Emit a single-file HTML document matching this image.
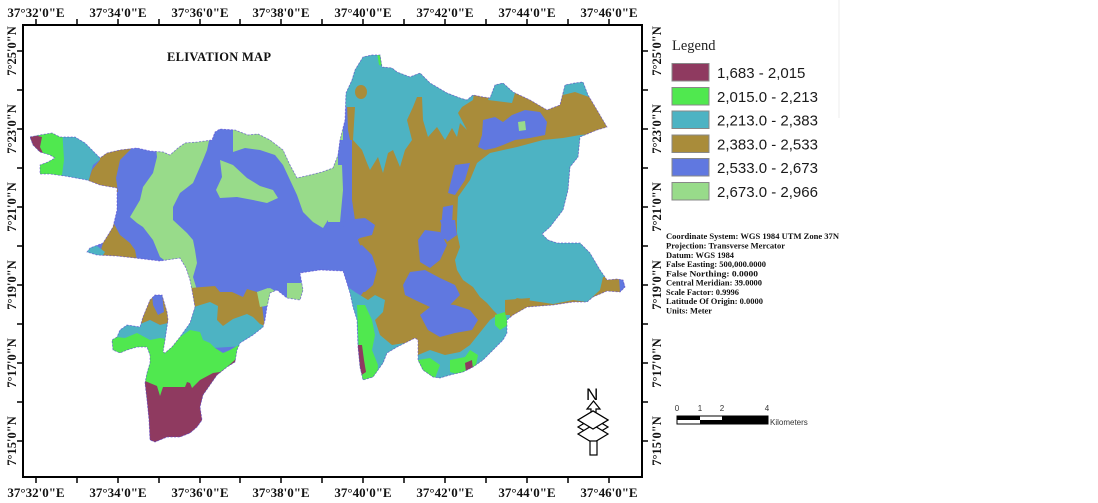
<!DOCTYPE html>
<html><head><meta charset="utf-8"><style>
html,body{margin:0;padding:0;background:#fff;}
svg{display:block;}
.ax{font-family:"Liberation Serif",serif;font-weight:bold;font-size:13px;fill:#111;}
.axs{font-family:"Liberation Serif",serif;font-weight:bold;font-size:12.5px;fill:#111;}
.lg{font-family:"Liberation Sans",sans-serif;font-size:15px;fill:#1a1a1a;}
.cs{font-family:"Liberation Serif",serif;font-weight:bold;font-size:8.6px;fill:#111;}
.sb{font-family:"Liberation Sans",sans-serif;font-size:8px;fill:#333;}
</style></head><body>
<svg width="1098" height="503" viewBox="0 0 1098 503" xmlns="http://www.w3.org/2000/svg">
<rect width="1098" height="503" fill="#fff"/>
<defs>
<clipPath id="c"><polygon id="outl" points="30,137 40,135 52,133 60,137 75,137 85,143 92,150 100,158 107,153 120,150 137,148 150,151 163,152 170,155 178,148 185,143 198,142 212,140 215,132 220,129 235,130 248,135 258,134 270,140 283,150 290,165 297,178 310,175 322,172 333,168 338,155 340,140 345,120 346,93 352,80 355,70 363,57 372,55 380,55 382,67 392,68 397,72 410,77 420,73 430,83 447,93 460,98 467,100 473,95 483,97 490,98 495,85 503,83 513,92 530,100 547,110 560,105 565,85 575,83 583,82 588,95 597,110 607,127 597,130 580,137 578,157 570,167 568,190 563,210 550,227 542,234 548,240 557,243 580,243 590,253 600,270 607,280 617,279 623,280 625,287 620,292 607,291 593,297 587,302 573,302 553,305 527,307 513,315 507,320 507,333 503,340 493,350 483,360 473,367 463,372 450,375 440,378 433,377 423,370 418,360 418,340 415,338 407,342 397,347 387,353 383,363 373,377 363,380 360,367 358,347 357,320 353,307 350,293 346,280 343,271 320,270 300,273 303,290 300,300 287,298 277,290 270,293 267,307 265,320 263,327 253,335 240,343 237,350 235,362 227,367 217,375 210,385 203,395 200,407 202,420 197,427 190,433 180,437 167,437 155,442 150,440 149,420 147,400 145,383 147,373 150,363 150,355 147,347 137,347 127,350 120,353 113,350 112,340 117,337 120,330 127,325 140,327 143,317 150,300 155,295 162,295 167,312 168,320 165,340 163,352 165,353 172,347 180,337 190,323 195,307 192,290 190,280 186,268 180,258 160,261 135,258 117,256 97,255 87,252 90,248 103,243 113,227 117,210 117,188 100,185 87,180 65,176 50,174 40,174 40,165 48,162 55,158 50,155 40,152 33,145"/></clipPath>
</defs>

<!-- base -->
<use href="#outl" fill="#6078e0"/>
<g clip-path="url(#c)">
<!-- east olive -->
<polygon fill="#a98c3a" points="345,50 625,50 625,300 500,320 490,385 365,385 358,300 366,288 366,260 358,240 352,200 352,150 348,130"/>
<!-- cyan NW -->
<polygon fill="#4db3c3" points="340,50 480,50 473,100 462,107 458,113 467,130 460,123 457,137 452,128 445,140 437,127 428,137 423,120 422,97 417,97 413,107 407,120 412,140 405,150 400,167 393,150 388,153 383,173 378,157 370,170 367,163 362,150 353,140 355,107 340,107"/>
<ellipse cx="361" cy="92" rx="6" ry="7" fill="#a98c3a"/>
<polygon fill="#50e84f" points="377,52 383,52 383,66 379,65"/>
<polygon fill="#4db3c3" points="488,100 495,83 505,82 515,93 512,103"/>
<polygon fill="#4db3c3" points="563,95 565,80 586,78 589,97 575,92"/>
<!-- blue NE patch -->
<polygon fill="#6078e0" points="483,120 495,117 503,122 512,115 525,110 540,112 547,122 545,135 530,138 515,140 503,145 495,148 485,150 478,147 482,135"/>
<polygon fill="#98db8a" points="518,122 525,121 526,130 519,131"/>
<!-- cyan big east -->
<polygon fill="#4db3c3" points="477,163 490,153 517,147 543,140 563,138 580,135 640,130 640,272 603,277 600,290 587,302 573,300 553,304 527,300 517,298 510,303 507,310 500,317 493,310 487,303 480,297 473,287 463,280 457,270 455,260 460,247 457,233 457,220 458,197 470,180"/>
<polygon fill="#a98c3a" points="505,300 530,298 528,308 515,315 505,315"/>
<polygon fill="#6078e0" points="619,278 630,278 630,292 620,292"/>
<!-- blue patches in olive -->
<polygon fill="#6078e0" points="403,285 410,272 425,270 440,278 455,285 460,295 450,305 430,307 415,300 405,295"/>
<polygon fill="#6078e0" points="420,315 435,303 455,305 470,310 478,320 472,330 455,333 440,337 428,330"/>
<polygon fill="#6078e0" points="418,240 425,230 440,232 447,245 440,260 430,268 420,262"/>
<polygon fill="#6078e0" points="440,220 455,220 457,235 447,242"/>
<polygon fill="#6078e0" points="455,165 470,163 465,180 455,195 448,193"/>
<polygon fill="#6078e0" points="443,207 453,205 452,225 448,240 440,238"/>
<polygon fill="#6078e0" points="345,220 365,218 375,225 372,235 360,238 350,245 345,245"/>
<polygon fill="#6078e0" points="345,250 362,245 372,255 377,270 373,285 365,292 345,292"/>
<!-- cyan SW of east part -->
<polygon fill="#4db3c3" points="345,285 355,292 368,300 375,295 385,300 383,312 375,320 380,335 392,345 405,343 415,345 418,360 365,385 345,385"/>
<polygon fill="#50e84f" points="357,305 365,305 372,320 375,335 372,350 378,365 377,378 360,380"/>
<polygon fill="#8f3a60" points="356,345 362,345 364,360 366,372 360,376 356,376"/>
<!-- bottom band -->
<polygon fill="#4db3c3" points="418,355 430,350 445,355 460,352 470,345 478,335 490,320 497,315 510,315 510,385 418,385"/>
<polygon fill="#50e84f" points="418,360 430,358 440,365 435,378 420,378"/>
<polygon fill="#50e84f" points="450,360 465,357 470,350 478,355 475,370 460,375 450,372"/>
<polygon fill="#8f3a60" points="465,363 472,360 473,370 466,372"/>
<polygon fill="#50e84f" points="495,315 505,312 508,325 500,330 495,325"/>

<!-- left lobe west -->
<polygon fill="#50e84f" points="25,128 63,128 66,150 64,180 25,180"/>
<polygon fill="#8f3a60" points="25,133 42,137 40,147 43,153 30,155"/>
<polygon fill="#4db3c3" points="62,128 102,138 102,158 93,165 90,175 87,190 60,190 64,160"/>
<polygon fill="#a98c3a" points="100,148 135,145 120,160 116,178 118,192 85,192 92,170 100,160"/>
<polygon fill="#a98c3a" points="113,222 120,235 130,243 135,250 137,260 98,260 103,243 110,232"/>
<polygon fill="#4db3c3" points="83,244 97,246 105,252 100,260 83,260"/>
<!-- light green band -->
<polygon fill="#98db8a" points="155,138 210,136 207,150 203,160 193,183 180,193 173,207 173,220 187,233 193,240 195,250 197,263 193,277 197,290 185,290 183,273 177,263 167,262 160,257 153,240 143,227 137,223 130,217 140,200 143,187 153,173 157,157"/>
<!-- light green NE of left lobe -->
<polygon fill="#98db8a" points="233,120 343,120 343,205 333,212 323,228 313,222 303,212 297,195 290,180 283,165 275,155 260,150 245,148 233,152"/>
<polygon fill="#6078e0" points="338,140 352,140 352,205 342,230 338,225"/>
<polygon fill="#98db8a" points="220,160 233,165 247,178 260,186 273,190 278,198 267,203 253,200 237,197 220,198 216,190 222,177"/>
<polygon fill="#98db8a" points="287,283 303,283 303,300 287,300"/>
<polygon fill="#98db8a" points="257,292 270,288 277,292 270,305 260,307"/>
<polygon fill="#98db8a" points="328,165 342,165 343,190 340,222 328,222"/>
<!-- south lobe -->
<polygon fill="#a98c3a" points="185,292 190,288 215,286 220,292 232,292 243,297 247,289 257,292 262,305 265,330 190,330"/>
<polygon fill="#98db8a" points="257,292 268,288 275,292 270,305 260,307"/>
<polygon fill="#4db3c3" points="180,312 197,306 210,302 218,306 217,320 223,326 233,319 247,314 253,317 260,324 270,328 260,345 180,350"/>
<polygon fill="#50e84f" points="140,355 155,350 167,350 180,337 190,330 200,332 203,340 210,343 215,348 223,353 230,350 237,346 250,340 250,400 140,400"/>
<polygon fill="#8f3a60" points="140,382 145,381 157,386 160,396 163,387 185,387 187,382 190,383 192,388 200,380 213,373 220,372 227,367 237,358 245,360 245,450 140,450"/>
<!-- peninsula -->
<polygon fill="#a98c3a" points="138,286 172,286 172,322 160,325 150,320 138,325"/>
<polygon fill="#6078e0" points="152,293 162,293 164,312 158,315 153,305"/>
<polygon fill="#4db3c3" points="108,318 138,325 150,320 160,325 172,322 172,342 160,340 150,342 137,335 125,340 108,340"/>
<polygon fill="#50e84f" points="108,336 125,338 137,333 150,340 160,338 172,340 172,360 108,360"/>
</g>
<use href="#outl" fill="none" stroke="#5a3fd0" stroke-width="0.9" stroke-opacity="0.6" stroke-dasharray="2 1.5"/>

<!-- frame -->
<rect x="23" y="25" width="619" height="452" fill="none" stroke="#000" stroke-width="2"/>
<g stroke="#000" stroke-width="1.5">
<line x1="36" y1="19" x2="36" y2="25"/><line x1="77" y1="19" x2="77" y2="25"/><line x1="118" y1="19" x2="118" y2="25"/><line x1="159" y1="19" x2="159" y2="25"/><line x1="200" y1="19" x2="200" y2="25"/><line x1="240" y1="19" x2="240" y2="25"/><line x1="281" y1="19" x2="281" y2="25"/><line x1="322" y1="19" x2="322" y2="25"/><line x1="363" y1="19" x2="363" y2="25"/><line x1="404" y1="19" x2="404" y2="25"/><line x1="445" y1="19" x2="445" y2="25"/><line x1="486" y1="19" x2="486" y2="25"/><line x1="527" y1="19" x2="527" y2="25"/><line x1="568" y1="19" x2="568" y2="25"/><line x1="609" y1="19" x2="609" y2="25"/>
<line x1="36" y1="477" x2="36" y2="483"/><line x1="77" y1="477" x2="77" y2="483"/><line x1="118" y1="477" x2="118" y2="483"/><line x1="159" y1="477" x2="159" y2="483"/><line x1="200" y1="477" x2="200" y2="483"/><line x1="240" y1="477" x2="240" y2="483"/><line x1="281" y1="477" x2="281" y2="483"/><line x1="322" y1="477" x2="322" y2="483"/><line x1="363" y1="477" x2="363" y2="483"/><line x1="404" y1="477" x2="404" y2="483"/><line x1="445" y1="477" x2="445" y2="483"/><line x1="486" y1="477" x2="486" y2="483"/><line x1="527" y1="477" x2="527" y2="483"/><line x1="568" y1="477" x2="568" y2="483"/><line x1="609" y1="477" x2="609" y2="483"/>
<line x1="17" y1="51" x2="23" y2="51"/><line x1="17" y1="90" x2="23" y2="90"/><line x1="17" y1="129" x2="23" y2="129"/><line x1="17" y1="168" x2="23" y2="168"/><line x1="17" y1="207" x2="23" y2="207"/><line x1="17" y1="246" x2="23" y2="246"/><line x1="17" y1="285" x2="23" y2="285"/><line x1="17" y1="324" x2="23" y2="324"/><line x1="17" y1="363" x2="23" y2="363"/><line x1="17" y1="402" x2="23" y2="402"/><line x1="17" y1="441" x2="23" y2="441"/>
<line x1="642" y1="51" x2="648" y2="51"/><line x1="642" y1="90" x2="648" y2="90"/><line x1="642" y1="129" x2="648" y2="129"/><line x1="642" y1="168" x2="648" y2="168"/><line x1="642" y1="207" x2="648" y2="207"/><line x1="642" y1="246" x2="648" y2="246"/><line x1="642" y1="285" x2="648" y2="285"/><line x1="642" y1="324" x2="648" y2="324"/><line x1="642" y1="363" x2="648" y2="363"/><line x1="642" y1="402" x2="648" y2="402"/><line x1="642" y1="441" x2="648" y2="441"/>
</g>
<g class="ax" text-anchor="middle">
<text x="36" y="17">37°32'0"E</text><text x="118" y="17">37°34'0"E</text><text x="200" y="17">37°36'0"E</text><text x="281" y="17">37°38'0"E</text><text x="363" y="17">37°40'0"E</text><text x="445" y="17">37°42'0"E</text><text x="527" y="17">37°44'0"E</text><text x="609" y="17">37°46'0"E</text>
<text x="36" y="497">37°32'0"E</text><text x="118" y="497">37°34'0"E</text><text x="200" y="497">37°36'0"E</text><text x="281" y="497">37°38'0"E</text><text x="363" y="497">37°40'0"E</text><text x="445" y="497">37°42'0"E</text><text x="527" y="497">37°44'0"E</text><text x="609" y="497">37°46'0"E</text>
</g>
<g class="axs" text-anchor="middle">
<text transform="translate(16,51) rotate(-90)">7°25'0"N</text><text transform="translate(16,129) rotate(-90)">7°23'0"N</text><text transform="translate(16,207) rotate(-90)">7°21'0"N</text><text transform="translate(16,285) rotate(-90)">7°19'0"N</text><text transform="translate(16,363) rotate(-90)">7°17'0"N</text><text transform="translate(16,441) rotate(-90)">7°15'0"N</text>
<text transform="translate(661,51) rotate(-90)">7°25'0"N</text><text transform="translate(661,129) rotate(-90)">7°23'0"N</text><text transform="translate(661,207) rotate(-90)">7°21'0"N</text><text transform="translate(661,285) rotate(-90)">7°19'0"N</text><text transform="translate(661,363) rotate(-90)">7°17'0"N</text><text transform="translate(661,441) rotate(-90)">7°15'0"N</text>
</g>
<text x="167" y="61" font-family="Liberation Serif, serif" font-weight="bold" font-size="12.5" fill="#111" textLength="104">ELIVATION MAP</text>

<!-- north arrow -->
<text x="586" y="400" font-family="Liberation Sans, sans-serif" font-size="17" fill="#000">N</text>
<polygon points="593.5,401 587,409 591,409 591,415 596,415 596,409 600,409" fill="#fff" stroke="#000" stroke-width="1.2"/>
<g fill="#fff" stroke="#000" stroke-width="1.2">
<polygon points="578,420 593,411 608,420 593,429"/>
<polygon points="578,427 593,418 608,427 593,436"/>
<polygon points="578,434 593,425 608,434 593,443"/>
<rect x="590" y="441" width="7" height="14"/>
</g>
<polygon points="578,420 593,411 608,420 593,429" fill="#fff" stroke="#000" stroke-width="1.2"/>

<!-- legend -->
<line x1="839" y1="0" x2="839" y2="118" stroke="#ececec" stroke-width="1"/>
<text x="672" y="50" font-family="Liberation Serif, serif" font-size="14.5" fill="#222">Legend</text>
<g stroke="#888" stroke-width="1">
<rect x="672" y="63.5" width="37" height="17.5" fill="#8f3a60"/>
<rect x="672" y="87.5" width="37" height="17.5" fill="#50e84f"/>
<rect x="672" y="111" width="37" height="17.5" fill="#4db3c3"/>
<rect x="672" y="135" width="37" height="17.5" fill="#a98c3a"/>
<rect x="672" y="158.5" width="37" height="17.5" fill="#6078e0"/>
<rect x="672" y="182.5" width="37" height="17.5" fill="#98db8a"/>
</g>
<g class="lg">
<text x="717" y="78">1,683 - 2,015</text>
<text x="717" y="102">2,015.0 - 2,213</text>
<text x="717" y="125.5">2,213.0 - 2,383</text>
<text x="717" y="149.5">2,383.0 - 2,533</text>
<text x="717" y="173">2,533.0 - 2,673</text>
<text x="717" y="197">2,673.0 - 2,966</text>
</g>
<g class="cs">
<text x="666" y="239" textLength="173" lengthAdjust="spacingAndGlyphs">Coordinate System: WGS 1984 UTM Zone 37N</text>
<text x="666" y="248.5" textLength="119" lengthAdjust="spacingAndGlyphs">Projection: Transverse Mercator</text>
<text x="666" y="258" textLength="68" lengthAdjust="spacingAndGlyphs">Datum: WGS 1984</text>
<text x="666" y="267" textLength="100" lengthAdjust="spacingAndGlyphs">False Easting: 500,000.0000</text>
<text x="666" y="276.5" textLength="92" lengthAdjust="spacingAndGlyphs">False Northing: 0.0000</text>
<text x="666" y="285.5" textLength="96" lengthAdjust="spacingAndGlyphs">Central Meridian: 39.0000</text>
<text x="666" y="295" textLength="73" lengthAdjust="spacingAndGlyphs">Scale Factor: 0.9996</text>
<text x="666" y="304" textLength="97" lengthAdjust="spacingAndGlyphs">Latitude Of Origin: 0.0000</text>
<text x="666" y="313.5" textLength="46" lengthAdjust="spacingAndGlyphs">Units: Meter</text>
</g>

<!-- scale bar -->
<g class="sb" text-anchor="middle">
<text x="677" y="411">0</text><text x="700" y="411">1</text><text x="722" y="411">2</text><text x="767" y="411">4</text>
</g>
<rect x="677" y="416" width="91" height="8" fill="#fff" stroke="#000" stroke-width="1"/>
<rect x="677" y="416" width="23" height="4" fill="#000"/>
<rect x="700" y="420" width="22" height="4" fill="#000"/>
<rect x="722" y="416" width="46" height="8" fill="#000"/>
<text x="770" y="425" class="sb">Kilometers</text>
</svg>
</body></html>
